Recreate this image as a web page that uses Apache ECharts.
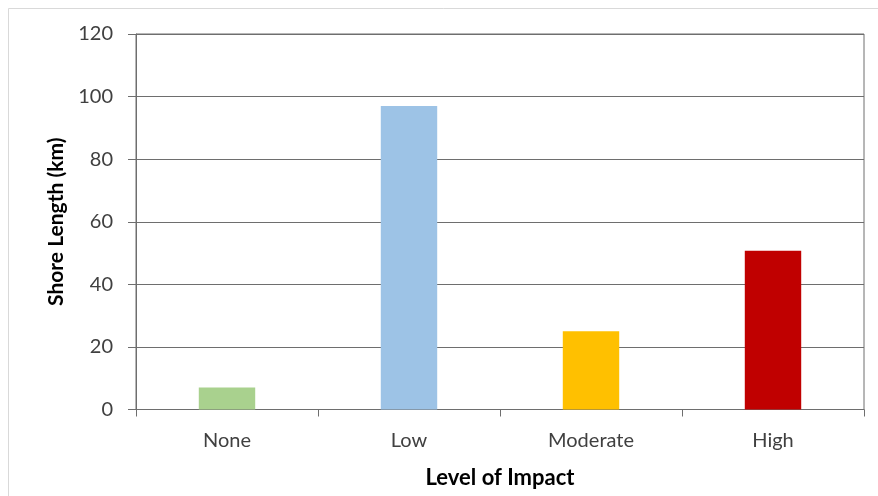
<!DOCTYPE html>
<html>
<head>
<meta charset="utf-8">
<script src="https://cdn.jsdelivr.net/npm/echarts@6/dist/echarts.min.js"></script>
<style>
html,body{margin:0;padding:0;background:#fff;}
#chart{width:878px;height:496px;}
</style>
</head>
<body>
<div id="chart"></div>
<script>
const categories = ['None', 'Low', 'Moderate', 'High'];
const values = [7, 97, 25, 50.7];
const barColors = ['#A9D18E', '#9DC3E6', '#FFC000', '#C00000'];
const yTicks = [0, 20, 40, 60, 80, 100, 120];

const chart = echarts.init(document.getElementById('chart'));
const font = 'Lato, "Open Sans", sans-serif';
const lineColor = '#6e6e6e';
chart.setOption({
  animation: false,
  backgroundColor: '#fff',
  graphic: [{
    type: 'rect',
    shape: {x: 8.5, y: 8.5, width: 900, height: 600},
    style: {fill: 'none', stroke: '#d9d9d9', lineWidth: 1},
    silent: true
  }],
  grid: {
    left: 136, right: 14, top: 34, bottom: 86.5,
    show: true, borderColor: lineColor, borderWidth: 1
  },
  xAxis: {
    type: 'category',
    data: categories,
    name: 'Level of Impact',
    nameLocation: 'middle',
    nameGap: 57,
    nameTextStyle: {fontFamily: font, fontWeight: 'bold', fontSize: 22, color: '#000'},
    axisLine: {lineStyle: {color: lineColor, width: 1}},
    axisTick: {show: true, length: 7, lineStyle: {color: lineColor}},
    axisLabel: {fontFamily: font, fontSize: 20, color: '#404040', margin: 21}
  },
  yAxis: {
    type: 'value',
    min: yTicks[0],
    max: yTicks[yTicks.length - 1],
    interval: yTicks[1] - yTicks[0],
    name: 'Shore Length (km)',
    nameLocation: 'middle',
    nameGap: 69,
    nameTextStyle: {fontFamily: font, fontWeight: 'bold', fontSize: 21, color: '#000'},
    axisLine: {show: true, lineStyle: {color: lineColor, width: 1}},
    axisTick: {show: true, length: 8, lineStyle: {color: lineColor}},
    axisLabel: {fontFamily: font, fontSize: 20, color: '#404040', margin: 23},
    splitLine: {show: true, lineStyle: {color: lineColor, width: 1}}
  },
  series: [{
    type: 'bar',
    data: values.map((v, i) => ({value: v, itemStyle: {color: barColors[i]}})),
    barWidth: '31%'
  }]
});
</script>
</body>
</html>
